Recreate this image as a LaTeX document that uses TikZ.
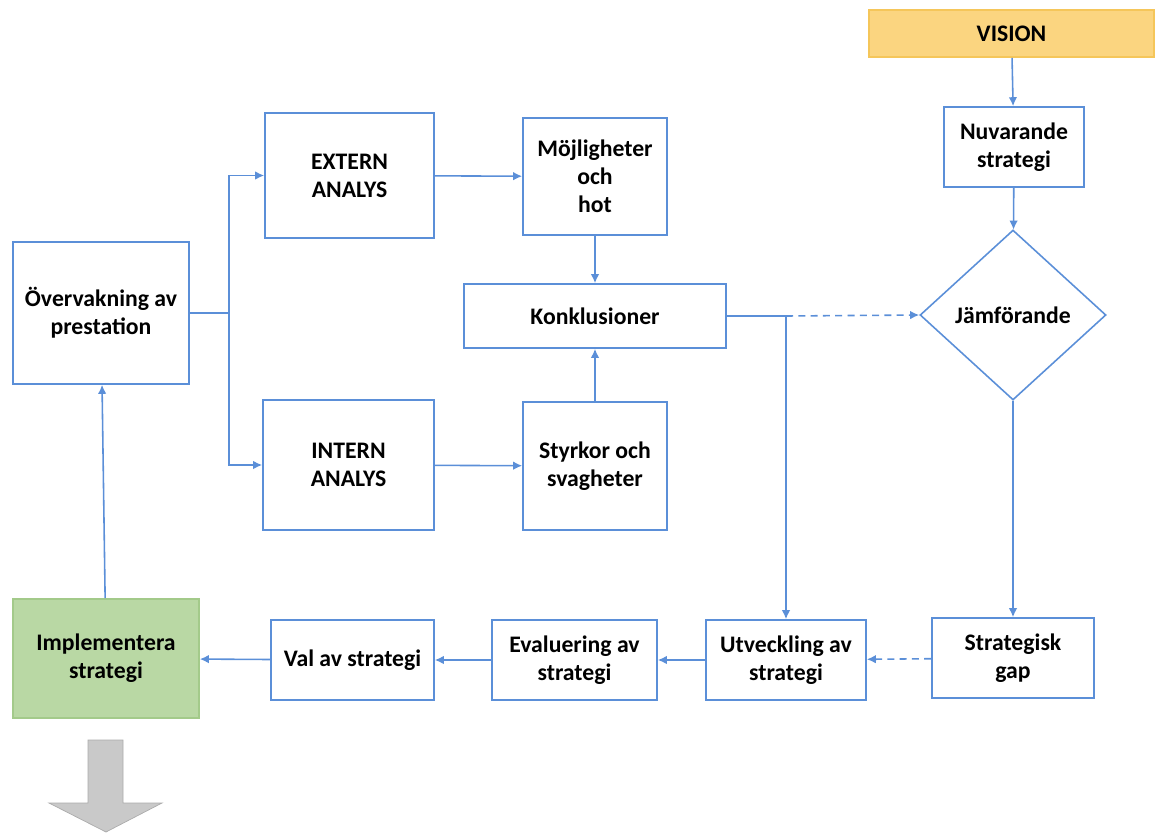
\documentclass[tikz,border=0pt]{standalone}
\usepackage{fontspec}
\setmainfont{Carlito}
\usetikzlibrary{positioning, calc, shapes.geometric, arrows.meta}

\definecolor{linecol}{HTML}{5B8FD8}
\definecolor{visionfill}{HTML}{FBD580}
\definecolor{visiondraw}{HTML}{F5C65A}
\definecolor{implfill}{HTML}{B9D8A4}
\definecolor{impldraw}{HTML}{A3CA8A}
\definecolor{bigarrow}{HTML}{C9C9C9}

\begin{document}
\begin{tikzpicture}[
        x=0.02cm, y=-0.02cm,
        every node/.style={font=\fontsize{13.5}{16}\selectfont\bfseries, align=center, inner sep=0pt},
        box/.style={rectangle, draw=linecol, line width=0.9pt, fill=white},
        link/.style={draw=linecol, line width=0.9pt},
        arrow/.style={link, -{Latex[length=1.8mm, width=1.7mm]}},
        dashlink/.style={dash pattern=on 4pt off 3pt}
    ]
    \useasboundingbox (0,0) rectangle (1156,832);

    % Right column
    \node (vision) [rectangle, draw=visiondraw, fill=visionfill, line width=0.9pt, minimum width=285*0.02cm, minimum height=47*0.02cm] at (1011.5,33.5) {VISION};
    \node (nuv) [box, minimum width=140*0.02cm, minimum height=80*0.02cm] at (1014,147) {Nuvarande\\strategi};
    \node (jamf) [diamond, draw=linecol, line width=0.9pt, minimum width=186*0.02cm, minimum height=170*0.02cm] at (1013,315) {Jämförande};
    \node (gap) [box, minimum width=162*0.02cm, minimum height=80*0.02cm] at (1013,658) {Strategisk\\gap};

    % Bottom row
    \node (utv) [box, minimum width=160*0.02cm, minimum height=80*0.02cm] at (786,660) {Utveckling av\\strategi};
    \node (eval) [box, minimum width=165*0.02cm, minimum height=80*0.02cm] at (574.5,660) {Evaluering av\\strategi};
    \node (val) [box, minimum width=163*0.02cm, minimum height=80*0.02cm] at (352.5,660) {Val av strategi};
    \node (impl) [rectangle, draw=impldraw, fill=implfill, line width=0.9pt, minimum width=186*0.02cm, minimum height=119*0.02cm] at (106,658.5) {Implementera\\strategi};

    % Analysis
    \node (overv) [box, minimum width=176*0.02cm, minimum height=142*0.02cm] at (101,313) {Övervakning av\\prestation};
    \node (extern) [box, minimum width=169*0.02cm, minimum height=125*0.02cm] at (349.5,175.5) {EXTERN\\ANALYS};
    \node (intern) [box, minimum width=171*0.02cm, minimum height=130*0.02cm] at (348.5,465) {INTERN\\ANALYS};
    \node (mojl) [box, minimum width=144*0.02cm, minimum height=117*0.02cm] at (595,176.5) {Möjligheter\\och\\hot};
    \node (konk) [box, minimum width=262*0.02cm, minimum height=64*0.02cm] at (595,316) {Konklusioner};
    \node (styrk) [box, minimum width=144*0.02cm, minimum height=128*0.02cm] at (595,466) {Styrkor och\\svagheter};

    % Connections
    \draw[link] (overv.east) -- ++(39,0) coordinate (split);
    \draw[arrow] (split) |- (extern.west);
    \draw[arrow] (split) |- (intern.west);
    \draw[arrow] (extern) -- (mojl);
    \draw[arrow] (intern) -- (styrk);
    \draw[arrow] (mojl) -- (konk);
    \draw[arrow] (styrk) -- (konk);
    \draw[arrow] (konk.east) -| (utv.north);
    \draw[arrow, dashlink] (konk.east -| utv.north) -- (jamf.west);
    \draw[arrow] (vision) -- (nuv);
    \draw[arrow] (nuv) -- (jamf);
    \draw[arrow] (jamf) -- (gap);
    \draw[arrow, dashlink] (gap) -- (utv);
    \draw[arrow] (utv) -- (eval);
    \draw[arrow] (eval) -- (val);
    \draw[arrow] (val) -- (impl);
    \draw[arrow] (impl) -- (overv);

    % Big arrow
    \draw[fill=bigarrow, draw=bigarrow!85!black, line width=0.4pt]
        (88,740) -- (123,740) -- (123,803) -- (162,803) -- (106,832) -- (49,803) -- (88,803) -- cycle;
\end{tikzpicture}
\end{document}
